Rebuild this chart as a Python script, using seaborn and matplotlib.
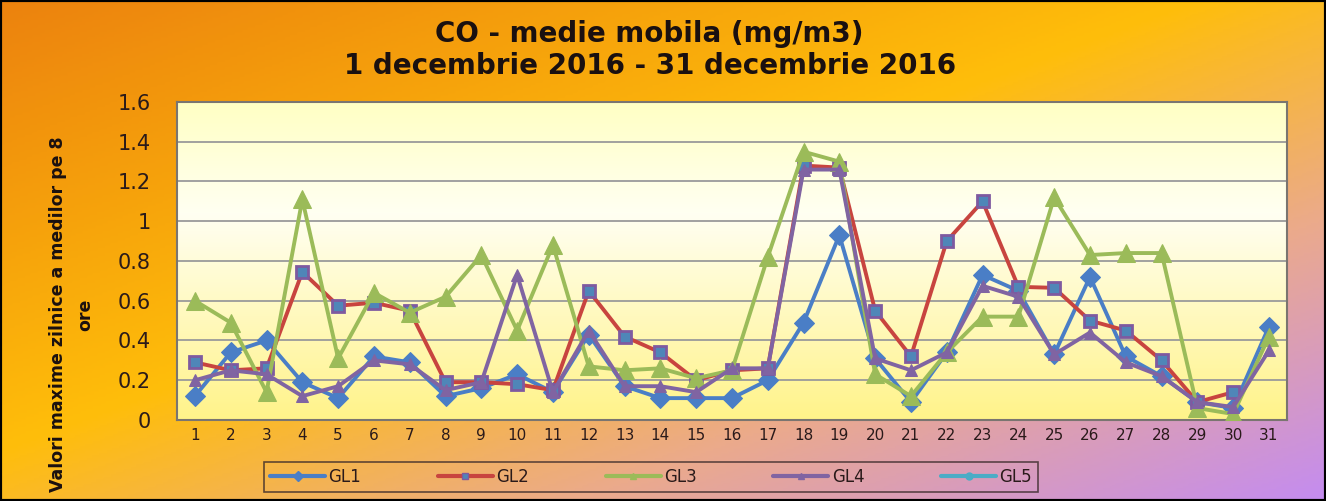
import numpy as np
import pandas as pd
import matplotlib
matplotlib.use("Agg")
import matplotlib.pyplot as plt
from matplotlib.lines import Line2D
from matplotlib.patches import Rectangle
from matplotlib.colors import LinearSegmentedColormap
import seaborn as sns

# daily maxima of 8h moving average, December 2016
days = list(range(1, 32))
gl1 = [0.12, 0.34, 0.40, 0.19, 0.11, 0.32, 0.29, 0.12, 0.16, 0.23, 0.14, 0.43, 0.17, 0.11, 0.11, 0.11,
       0.20, 0.49, 0.93, 0.31, 0.09, 0.34, 0.73, 0.65, 0.33, 0.72, 0.32, 0.22, 0.09, 0.06, 0.47]
gl2 = [0.29, 0.25, 0.26, 0.745, 0.575, 0.59, 0.55, 0.19, 0.19, 0.18, 0.15, 0.65, 0.42, 0.34, 0.20, 0.25,
       0.26, 1.28, 1.27, 0.55, 0.32, 0.90, 1.10, 0.67, 0.665, 0.50, 0.45, 0.30, 0.09, 0.14, None]
gl3 = [0.60, 0.49, 0.14, 1.11, 0.31, 0.64, 0.54, 0.62, 0.83, 0.45, 0.88, 0.27, 0.25, 0.26, 0.21, 0.25,
       0.82, 1.35, 1.30, 0.23, 0.12, 0.34, 0.52, 0.52, 1.12, 0.83, 0.84, 0.84, 0.06, 0.03, 0.42]
gl4 = [0.20, 0.25, 0.23, 0.12, 0.17, 0.30, 0.28, 0.15, 0.19, 0.73, 0.14, 0.45, 0.17, 0.17, 0.14, 0.26,
       0.26, 1.26, 1.26, 0.31, 0.25, 0.34, 0.675, 0.62, 0.33, 0.44, 0.29, 0.22, 0.09, 0.065, 0.35]
gl5 = []  # no data reported for GL5

series_names = ["GL1", "GL2", "GL3", "GL4", "GL5"]
y_ticks = [0, 0.2, 0.4, 0.6, 0.8, 1, 1.2, 1.4, 1.6]
y_tick_labels = ["0", "0.2", "0.4", "0.6", "0.8", "1", "1.2", "1.4", "1.6"]

rows = []
for name, vals in zip(series_names, [gl1, gl2, gl3, gl4, gl5]):
    for d, v in zip(days, vals):
        rows.append({"day": d, "value": v, "station": name})
df = pd.DataFrame(rows)
df["value"] = df["value"].astype(float)

styles = {
    "GL1": dict(color="#4A7EC6", marker="D", markersize=10, markerfacecolor="#4A7EC6", markeredgecolor="#4A7EC6"),
    "GL2": dict(color="#C8443F", marker="s", markersize=9, markerfacecolor="#4F86B8", markeredgecolor="#7E5AA0",
                markeredgewidth=2),
    "GL3": dict(color="#9BBB59", marker="^", markersize=13, markerfacecolor="#9BBB59", markeredgecolor="#9BBB59"),
    "GL4": dict(color="#8064A2", marker="^", markersize=8, markerfacecolor="#8064A2", markeredgecolor="#8064A2"),
    "GL5": dict(color="#4BACC6", marker="o", markersize=6, markerfacecolor="#4BACC6", markeredgecolor="#4BACC6"),
}

sns.set_style("white")
plt.rcParams['font.family'] = ['DejaVu Sans']

fig = plt.figure(figsize=(13.26, 5.01), dpi=100)

# figure background gradient (orange -> yellow -> lilac)
bg = fig.add_axes([0, 0, 1, 1], zorder=-3)
yy, xx = np.mgrid[0:1:200j, 0:1:530j]
bg_cmap = LinearSegmentedColormap.from_list(
    "bg", [(0, "#EC820E"), (0.45, "#FFBE0A"), (0.72, "#EBAA8C"), (1, "#C48CF0")])
bg.imshow(0.5 * (xx + yy), cmap=bg_cmap, vmin=0, vmax=1, aspect="auto", extent=[0, 1, 0, 1], origin="upper")
bg.axis("off")

pos = [0.1335, 0.1617, 0.837, 0.6347]

# plot area gradient
pa = fig.add_axes(pos, zorder=-2)
vv = np.linspace(0, 1, 200)[:, None] * np.ones((1, 50))
pa_cmap = LinearSegmentedColormap.from_list(
    "pa", [(0, "#FFFFC4"), (0.35, "#FFFFF2"), (1, "#FFF38A")])
pa.imshow(vv, cmap=pa_cmap, vmin=0, vmax=1, aspect="auto", extent=[0, 1, 0, 1], origin="upper")
pa.axis("off")

ax = fig.add_axes(pos)
ax.set_facecolor("none")

for name in series_names[:4]:
    sub = df[df["station"] == name].dropna()
    sns.lineplot(data=sub, x="day", y="value", ax=ax, linewidth=2.8, estimator=None,
                 legend=False, zorder=3, **styles[name])

ax.set_xlim(0.5, 31.5)
ax.set_ylim(0, 1.6)
ax.set_xticks(days)
ax.set_xticklabels([str(d) for d in days], fontsize=11, color="#2a1a1a")
ax.set_yticks(y_ticks)
ax.set_yticklabels(y_tick_labels, fontsize=15, color="#2a1a1a")
ax.tick_params(axis="both", length=0)
ax.tick_params(axis="y", pad=19)
ax.tick_params(axis="x", pad=6)
ax.set_xlabel("")
ax.set_ylabel("")
ax.yaxis.grid(True, color="#9a9a9a", linewidth=1.3)
ax.xaxis.grid(False)
ax.set_axisbelow(True)
for sp in ax.spines.values():
    sp.set_color("#7a7570")
    sp.set_linewidth(1.5)

fig.text(0.49, 0.90, "CO - medie mobila (mg/m3)\n1 decembrie 2016 - 31 decembrie 2016",
         ha="center", va="center", fontsize=20, fontweight="bold", color="#1a1010",
         multialignment="center", linespacing=1.15)

fig.text(0.054, 0.372, "Valori maxime zilnice a medilor pe 8\nore", rotation=90,
         ha="center", va="center", fontsize=12.5, fontweight="bold", color="#1a1010",
         multialignment="center", linespacing=1.65)

handles = []
for name in series_names:
    st = dict(styles[name])
    st["markersize"] = 5
    st.pop("markeredgewidth", None)
    handles.append(Line2D([], [], linewidth=3, label=name, **st))
leg = fig.legend(handles=handles, loc="center", bbox_to_anchor=(0.491, 0.048), ncol=5,
                 fontsize=12, frameon=True, fancybox=False, handlelength=3.3,
                 columnspacing=4.6, handletextpad=0.2, borderpad=0.35)
leg.get_frame().set_facecolor("none")
leg.get_frame().set_edgecolor("#3a2a2a")
leg.get_frame().set_linewidth(1.2)
for txt in leg.get_texts():
    txt.set_color("#2a1a1a")

fig.patches.append(Rectangle((0, 0), 1, 1, transform=fig.transFigure, fill=False,
                             edgecolor="black", linewidth=3))

fig.savefig("out.png", dpi=100)
